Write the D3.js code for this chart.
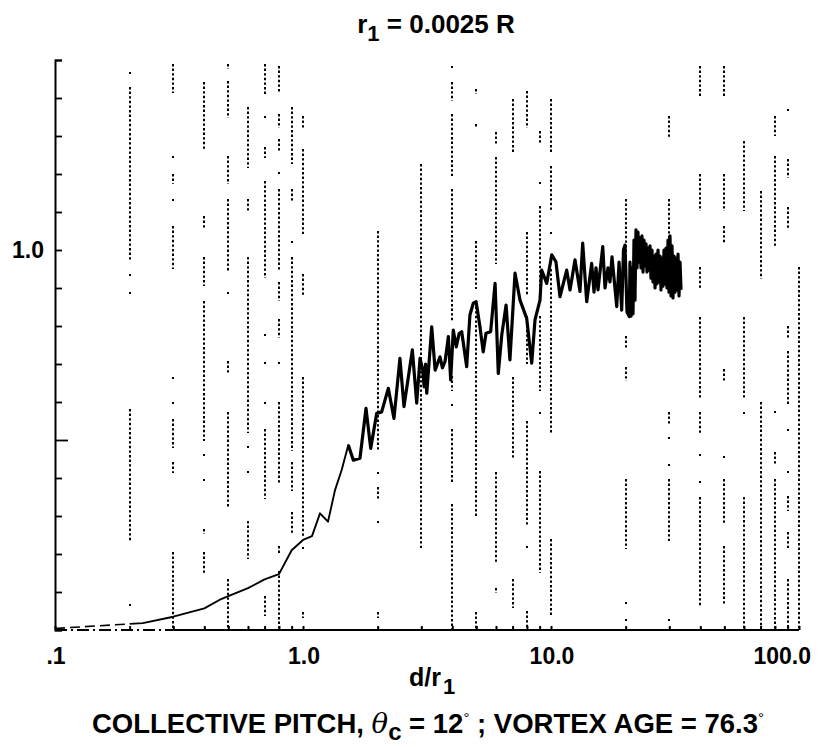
<!DOCTYPE html>
<html>
<head>
<meta charset="utf-8">
<script src="https://cdn.jsdelivr.net/npm/d3@7"></script>
<style>
  html, body { margin: 0; padding: 0; background: #fff; }
  svg { display: block; font-family: "Liberation Sans", Arial, Helvetica, sans-serif; font-weight: bold; }
</style>
</head>
<body>
<svg id="chart" width="820" height="747"></svg>
<script>
// ---- data: d/r1 against normalised circulation ----
const leadIn = [[0.1, 0.004], [0.2, 0.016]];

const profile = [
  [0.2, 0.016], [0.226, 0.018], [0.3, 0.035], [0.4, 0.057], [0.46, 0.079], [0.5, 0.089],
  [0.6, 0.110], [0.7, 0.133], [0.8, 0.147], [0.9, 0.21], [1.0, 0.237], [1.087, 0.247],
  [1.171, 0.307], [1.261, 0.285], [1.346, 0.368], [1.432, 0.421], [1.523, 0.487],
  [1.596, 0.447], [1.697, 0.452], [1.795, 0.583], [1.875, 0.478], [1.982, 0.57],
  [2.076, 0.574], [2.208, 0.636], [2.327, 0.557], [2.46, 0.715], [2.554, 0.588],
  [2.76, 0.737], [2.874, 0.597], [2.964, 0.715], [3.04, 0.684], [3.08, 0.64], [3.12, 0.70],
  [3.155, 0.623], [3.304, 0.798], [3.41, 0.684], [3.568, 0.719], [3.65, 0.69], [3.737, 0.706],
  [3.80, 0.74], [3.855, 0.772], [3.94, 0.658], [4.036, 0.789], [4.15, 0.745], [4.26, 0.78],
  [4.365, 0.785], [4.571, 0.693], [4.71, 0.829], [4.86, 0.86], [4.99, 0.864], [5.17, 0.798],
  [5.33, 0.732], [5.47, 0.781], [5.71, 0.785], [5.95, 0.912], [6.13, 0.675], [6.33, 0.776],
  [6.59, 0.855], [6.83, 0.711], [7.16, 0.939], [7.5, 0.868], [7.98, 0.82], [8.36, 0.702],
  [8.62, 0.816], [9.03, 0.868], [9.17, 0.947], [9.61, 0.912], [10.07, 0.987], [10.47, 0.969],
  [10.87, 0.877], [11.57, 0.947], [11.93, 0.895], [12.5, 0.974], [13.09, 0.891], [13.42, 1.018],
  [13.93, 0.864], [14.59, 0.965], [14.91, 0.889], [15.19, 0.953], [15.47, 0.895], [16.17, 1.009],
  [16.51, 0.9], [16.98, 0.953], [17.29, 0.916], [17.62, 0.982], [18.41, 0.851], [18.81, 0.968],
  [19.28, 0.842], [19.6, 1.0], [19.88, 1.013], [20.25, 0.837], [20.69, 0.825],
  [20.82, 0.968], [21.02, 0.826], [21.21, 0.953], [21.41, 0.832], [21.61, 1.026], [21.81, 0.868],
  [22.01, 1.053], [22.22, 0.953], [22.42, 1.047], [22.63, 0.968], [22.85, 1.032], [23.06, 0.953],
  [23.27, 1.037], [23.5, 0.942], [23.71, 1.026], [23.93, 0.958], [24.16, 1.016], [24.38, 0.942],
  [24.61, 1.005], [24.84, 0.947], [25.07, 1.011], [25.3, 0.926], [25.54, 1.0], [25.78, 0.916],
  [26.02, 0.984], [26.27, 0.9], [26.51, 0.989], [26.76, 0.911], [27.01, 1.0], [27.26, 0.916],
  [27.51, 0.984], [27.77, 0.895], [28.03, 0.979], [28.29, 0.905], [28.55, 1.0], [28.83, 0.911],
  [29.09, 1.005], [29.36, 0.9], [29.64, 1.026], [29.91, 0.889], [30.19, 1.037], [30.47, 0.879],
  [30.76, 1.011], [31.04, 0.874], [31.33, 0.984], [31.62, 0.889], [31.92, 0.979], [32.21, 0.895],
  [32.52, 0.989], [32.82, 0.879], [33.13, 0.968], [33.44, 0.895]
];

// broken dotted rulings: abscissa and the value ranges each one covers
const gridX = [0.2, 0.3, 0.4, 0.5, 0.6, 0.7, 0.8, 0.9, 1, 2, 3, 4, 5, 6, 7, 8, 9, 10,
               20, 30, 40, 50, 60, 70, 80, 90, 100];
const gridRuns = [
  [[1.466,1.466],[1.426,0.974],[0.934,0.934],[0.887,0.887],[0.579,0.237],[0.066,0.066]],
  [[1.487,1.416],[1.245,1.245],[1.197,1.176],[1.132,1.132],[1.061,0.953],[0.663,0.663],[0.597,0.597],[0.553,0.482],[0.439,0.416],[0.203,0]],
  [[1.439,1.263],[1.087,1.061],[0.979,0.908],[0.863,0.5],[0.461,0.461],[0.395,0.395],[0.263,0.255],[0.203,0.15]],
  [[1.487,1.479],[1.442,1.35],[1.245,1.176],[1.132,0.947],[0.887,0.887],[0.705,0.679],[0.571,0.324],[0.132,0]],
  [[1.374,1.218],[1.132,1.105],[0.979,0.521],[0.482,0.482],[0.416,0.416],[0.284,0.189]],
  [[1.487,1.413],[1.35,1.35],[1.268,1.245],[1.179,0.929],[0.776,0.776],[0.703,0.703],[0.597,0.597],[0.526,0.347],[0.087,0.039]],
  [[1.482,1.416],[1.355,1.324],[1.289,1.263],[1.203,1.203],[1.158,0.947],[0.913,0.868],[0.816,0.771],[0.703,0.703],[0.597,0.387],[0.218,0.203],[0.153,0]],
  [[1.374,1.229],[1.158,1.132],[1.021,1.021],[0.979,0.474],[0.439,0.368],[0.308,0.255]],
  [[1.35,1.324],[1.263,1.045],[0.934,0.882],[0.663,0.25],[0.216,0.216],[0.045,0.034]],
  [[1.047,0.474],[0.413,0.413],[0.374,0.347],[0.284,0.284],[0.045,0.034]],
  [[1.224,0.218]],
  [[1.482,1.482],[1.439,1.395],[1.355,1.197],[1.158,0.816],[0.666,0.632],[0.592,0.592],[0.526,0.387],[0.329,0]],
  [[1.421,1.413],[1.329,1.324],[1.021,0.9],[0.861,0.297],[0.045,0]],
  [[1.308,1.282],[1.242,0.966],[0.413,0.176],[0.108,0.1]],
  [[1.395,1.258],[0.663,0.453],[0.132,0.061]],
  [[1.416,1.324],[1.045,0.882],[0.824,0.703],[0.547,0.276],[0.218,0.218],[0.047,0]],
  [[1.311,1.284],[1.176,1.176],[1.113,0.887],[0.824,0.632],[0.571,0.571],[0.416,0.153]],
  [[1.395,1.258],[1.218,1.105],[1.045,1.045],[0.947,0.518],[0.237,0.039]],
  [[1.132,0.974],[0.771,0.745],[0.689,0.658],[0.395,0.216],[0.071,0.071],[0.026,0.026]],
  [[1.35,1.297],[1.132,0.992],[0.571,0.545],[0.505,0.505],[0.434,0.434],[0.395,0.237],[0.026,0.026]],
  [[1.482,1.408],[1.197,1.105],[0.953,0.903],[0.821,0.611],[0.571,0.521],[0.461,0.461],[0.389,0.389],[0.347,0.066]],
  [[1.482,1.408],[1.197,1.105],[1.061,1.018],[0.684,0.658],[0.455,0.455],[0.395,0.282],[0.218,0.071]],
  [[1.284,1.105],[0.821,0.613],[0.571,0.571],[0.347,0]],
  [[1.153,0.926],[0.597,0]],
  [[1.35,1.303],[1.245,1.013],[0.574,0.574],[0.466,0.439],[0.395,0]],
  [[1.368,1.368],[1.237,1.192],[1.111,1.061],[0.797,0.771],[0.732,0.592],[0.526,0.526],[0.416,0.416],[0.35,0.316],[0.255,0.218],[0.132,0]],
  [[0.953,0]]
];

const xLabelValues = [0.1, 1, 10, 100];
const xLabelText = [".1", "1.0", "10.0", "100.0"];
const yLabelValues = [1.0];
const yLabelText = ["1.0"];

// ---- scales ----
const svg = d3.select("#chart");
const x = d3.scaleLog().domain([0.1, 100]).range([55, 799]);
const y = d3.scaleLinear().domain([0, 1.5]).range([630, 60]);

// ---- dotted rulings (snapped to whole pixels so the dots stay dark) ----
const grid = svg.append("g").attr("class", "grid")
  .attr("stroke", "#000").attr("stroke-width", 2).attr("stroke-dasharray", "2.4,2.2");
gridX.forEach((gx, i) => {
  const px = Math.round(x(gx));
  grid.selectAll(null).data(gridRuns[i]).enter().append("line")
    .attr("x1", px).attr("x2", px)
    .attr("y1", d => Math.round(y(d[0])) - 1).attr("y2", d => Math.min(Math.round(y(d[1])) + 1, y(0)));
});

// ---- bottom axis: small inward ticks at every decade subdivision ----
const xAxis = d3.axisBottom(x).tickValues(x.ticks()).tickSizeInner(-4).tickSizeOuter(0).tickFormat("");
const gx = svg.append("g").attr("transform", `translate(0,${y(0)})`).call(xAxis);
gx.select(".domain").remove();
gx.selectAll(".tick line").attr("stroke-width", 2);

// baseline: dash-dot near the origin, solid beyond
svg.append("line").attr("x1", x(0.1)).attr("x2", x(0.3)).attr("y1", y(0)).attr("y2", y(0))
  .attr("stroke", "#000").attr("stroke-width", 1.8).attr("stroke-dasharray", "12,4,2,4");
svg.append("line").attr("x1", x(0.3)).attr("x2", x(100)).attr("y1", y(0)).attr("y2", y(0))
  .attr("stroke", "#000").attr("stroke-width", 1.8);

svg.append("g").selectAll("text").data(xLabelValues).enter().append("text")
  .attr("x", (d, i) => i === xLabelValues.length - 1 ? x(d) + 12 : x(d) + 1)
  .attr("y", y(0) + 34)
  .attr("text-anchor", (d, i) => i === xLabelValues.length - 1 ? "end" : "middle")
  .attr("font-size", 23)
  .text((d, i) => xLabelText[i]);

// ---- left axis ----
const yAxis = d3.axisRight(y).tickValues(y.ticks(15)).tickSize(7).tickFormat("");
const gy = svg.append("g").attr("transform", `translate(${x(0.1)},0)`).call(yAxis);
gy.select(".domain").attr("stroke-width", 2);
gy.selectAll(".tick line").attr("stroke-width", 1.8)
  .attr("x2", d => Math.abs(d - 0.5) < 1e-9 ? 13 : 7);

svg.append("g").selectAll("text").data(yLabelValues).enter().append("text")
  .attr("x", x(0.1) - 11).attr("y", d => y(d) + 8)
  .attr("text-anchor", "end").attr("font-size", 23)
  .text((d, i) => yLabelText[i]);

// ---- measured curve ----
const line = d3.line().x(d => x(d[0])).y(d => y(d[1]));
svg.append("path").datum(leadIn).attr("d", line)
  .attr("fill", "none").attr("stroke", "#000").attr("stroke-width", 1.6)
  .attr("stroke-dasharray", "10,5");
svg.append("path").datum(profile.filter(d => d[0] <= 1.6)).attr("d", line)
  .attr("fill", "none").attr("stroke", "#000").attr("stroke-width", 1.9)
  .attr("stroke-linejoin", "round");
svg.append("path").datum(profile.filter(d => d[0] >= 1.523)).attr("d", line)
  .attr("fill", "none").attr("stroke", "#000").attr("stroke-width", 3.2)
  .attr("stroke-linejoin", "round");

// ---- titles ----
const title = svg.append("text").attr("x", 436).attr("y", 33)
  .attr("text-anchor", "middle").attr("font-size", 26);
title.append("tspan").text("r");
title.append("tspan").attr("dy", 8).attr("font-size", 22).text("1");
title.append("tspan").attr("dy", -8).text(" = 0.0025 R");

const xt = svg.append("text").attr("x", 409).attr("y", 686).attr("font-size", 25);
xt.append("tspan").text("d/r");
xt.append("tspan").attr("dx", 2).attr("dy", 8).attr("font-size", 22).text("1");

const cap = svg.append("text").attr("x", 428).attr("y", 733)
  .attr("text-anchor", "middle").attr("font-size", 27.5);
cap.append("tspan").text("COLLECTIVE PITCH, ");
cap.append("tspan").attr("font-family", "DejaVu Serif").attr("font-style", "italic")
  .attr("font-weight", "normal").text("θ");
cap.append("tspan").attr("dy", 7).attr("font-size", 24).text("c");
cap.append("tspan").attr("dy", -7).text(" = 12");
cap.append("tspan").attr("dy", -10).attr("font-size", 15).attr("font-weight", "normal").text("°");
cap.append("tspan").attr("dy", 10).text(" ; VORTEX AGE = 76.3");
cap.append("tspan").attr("dy", -10).attr("font-size", 15).attr("font-weight", "normal").text("°");
</script>
</body>
</html>
